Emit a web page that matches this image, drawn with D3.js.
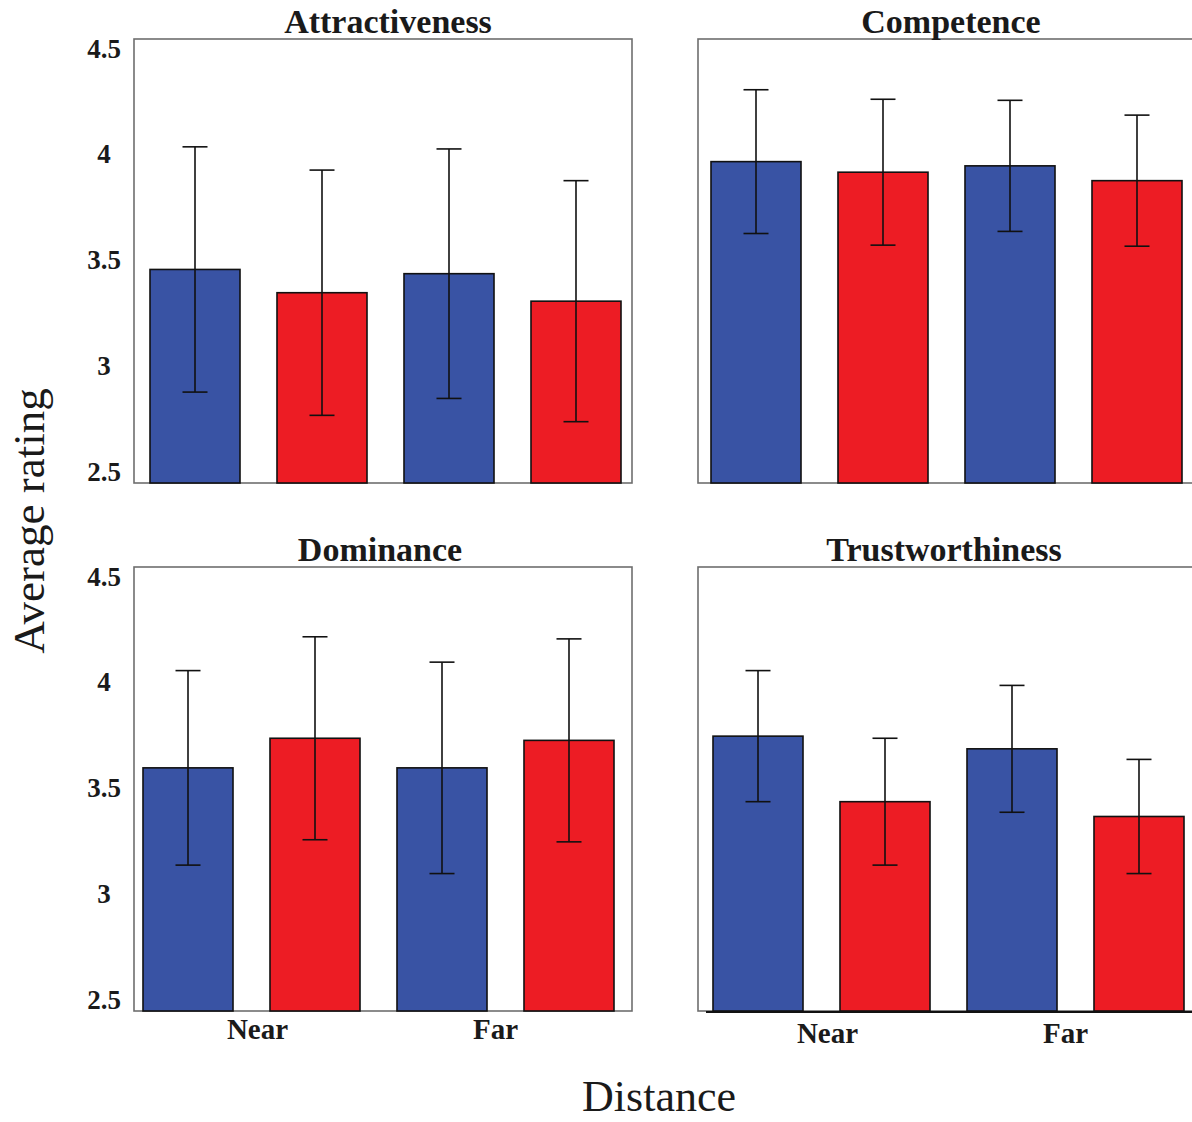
<!DOCTYPE html>
<html>
<head>
<meta charset="utf-8">
<script src="https://cdn.jsdelivr.net/npm/d3@7"></script>
<style>
  html, body { margin: 0; padding: 0; background: #ffffff; }
  svg { display: block; }
</style>
</head>
<body>
<svg id="chart" width="1192" height="1122"></svg>
<script>
// Rating dimensions (one panel each)
const traits = ["Attractiveness", "Competence", "Dominance", "Trustworthiness"];
// Distance conditions, each with two groups (blue, red)
const distances = ["Near", "Far"];
const groups = ["Group 1", "Group 2"];
// Bars in drawing order: Near/G1, Near/G2, Far/G1, Far/G2
const conditions = ["Near|Group 1", "Near|Group 2", "Far|Group 1", "Far|Group 2"];

// Mean ratings per trait, in condition order
const attractivenessMeans = [3.51, 3.40, 3.49, 3.36];
const competenceMeans     = [4.02, 3.97, 4.00, 3.93];
const dominanceMeans      = [3.65, 3.79, 3.65, 3.78];
const trustworthinessMeans= [3.80, 3.49, 3.74, 3.42];

// Half-length of the error bars per trait, in condition order
const attractivenessErr   = [0.58, 0.58, 0.59, 0.57];
const competenceErr       = [0.34, 0.345, 0.31, 0.31];
const dominanceErr        = [0.46, 0.48, 0.50, 0.48];
const trustworthinessErr  = [0.31, 0.30, 0.30, 0.27];

// Y axis tick values and labels
const yTickValues = [2.5, 3, 3.5, 4, 4.5];
const yTickLabels = ["2.5", "3", "3.5", "4", "4.5"];

const meansByTrait = [attractivenessMeans, competenceMeans, dominanceMeans, trustworthinessMeans];
const errByTrait = [attractivenessErr, competenceErr, dominanceErr, trustworthinessErr];

// Panel layout: frame origin, where the first bar starts, title nudge
const panelW = 498, panelH = 444;
const panels = [
  { x: 134, y: 39,  barStart: 150, titleDx: 5,  yLabels: true,  xLabels: false },
  { x: 698, y: 39,  barStart: 711, titleDx: 4,  yLabels: false, xLabels: false },
  { x: 134, y: 567, barStart: 143, titleDx: -3, yLabels: true,  xLabels: true, labelY: 1039 },
  { x: 698, y: 567, barStart: 713, titleDx: -3, yLabels: false, xLabels: true, labelY: 1043, axisLine: true }
];

const groupColor = d3.scaleOrdinal().domain(groups).range(["#3953a4", "#ed1c24"]);
const serif = "'Liberation Serif', 'Times New Roman', serif";

const svg = d3.select("#chart");

const y = d3.scaleLinear().domain([2.5, 4.6]).range([panelH, 0]);

panels.forEach((p, i) => {
  const means = meansByTrait[i];
  const errs = errByTrait[i];
  const data = conditions.map((c, k) => {
    const [dist, grp] = c.split("|");
    return { key: c, dist, grp, mean: means[k], err: errs[k] };
  });

  // bar positions in absolute page coordinates
  const x = d3.scaleBand().domain(conditions)
    .range([p.barStart, p.barStart + 471])
    .paddingInner(0.2913).paddingOuter(0);

  const g = svg.append("g").attr("transform", `translate(0,${p.y})`);

  // frame
  g.append("rect")
    .attr("x", p.x).attr("y", 0)
    .attr("width", panelW).attr("height", panelH)
    .attr("fill", "none").attr("stroke", "#6e6e6e").attr("stroke-width", 1.6);

  // bars
  g.selectAll("rect.bar").data(data).join("rect")
    .attr("class", "bar")
    .attr("x", d => x(d.key))
    .attr("width", x.bandwidth())
    .attr("y", d => y(d.mean))
    .attr("height", d => y(2.5) - y(d.mean))
    .attr("fill", d => groupColor(d.grp))
    .attr("stroke", "#111")
    .attr("stroke-width", 1.6);

  if (p.axisLine) {
    g.append("line")
      .attr("x1", 706).attr("x2", 1192)
      .attr("y1", panelH + 1).attr("y2", panelH + 1)
      .attr("stroke", "#111").attr("stroke-width", 2);
  }

  // error bars
  const eb = g.selectAll("g.err").data(data).join("g").attr("class", "err")
    .attr("transform", d => `translate(${x(d.key) + x.bandwidth() / 2},0)`);
  eb.append("line")
    .attr("y1", d => y(d.mean + d.err)).attr("y2", d => y(d.mean - d.err))
    .attr("stroke", "#111").attr("stroke-width", 1.6);
  [1, -1].forEach(s => {
    eb.append("line")
      .attr("x1", -12.5).attr("x2", 12.5)
      .attr("y1", d => y(d.mean + s * d.err)).attr("y2", d => y(d.mean + s * d.err))
      .attr("stroke", "#111").attr("stroke-width", 1.6);
  });

  // title
  g.append("text")
    .attr("x", p.x + panelW / 2 + p.titleDx).attr("y", -6)
    .attr("text-anchor", "middle")
    .attr("font-family", serif).attr("font-weight", "bold")
    .attr("font-size", 34).attr("fill", "#1a1a1a")
    .text(traits[i]);

  // y tick labels
  if (p.yLabels) {
    const axis = d3.axisLeft(y).tickValues(yTickValues)
      .tickFormat((d, k) => yTickLabels[k]).tickSize(0);
    const ag = g.append("g").attr("transform", `translate(${p.x},0)`).call(axis);
    ag.select(".domain").remove();
    ag.selectAll("text")
      .attr("x", -30).attr("dy", -3)
      .attr("text-anchor", "middle")
      .attr("font-family", serif).attr("font-weight", "bold")
      .attr("font-size", 27).attr("fill", "#1a1a1a");
  }

  // distance labels
  if (p.xLabels) {
    distances.forEach(dist => {
      const a = x(dist + "|" + groups[0]);
      const b = x(dist + "|" + groups[1]) + x.bandwidth();
      svg.append("text")
        .attr("x", (a + b) / 2 + (dist === "Near" ? 6 : -10))
        .attr("y", p.labelY)
        .attr("text-anchor", "middle")
        .attr("font-family", serif).attr("font-weight", "bold")
        .attr("font-size", 29).attr("fill", "#1a1a1a")
        .text(dist);
    });
  }
});

// axis titles
svg.append("text")
  .attr("transform", "translate(44,521) rotate(-90)")
  .attr("text-anchor", "middle")
  .attr("font-family", serif).attr("font-size", 45).attr("fill", "#1a1a1a")
  .text("Average rating");

svg.append("text")
  .attr("x", 659).attr("y", 1111)
  .attr("text-anchor", "middle")
  .attr("font-family", serif).attr("font-size", 44).attr("fill", "#1a1a1a")
  .text("Distance");
</script>
</body>
</html>
